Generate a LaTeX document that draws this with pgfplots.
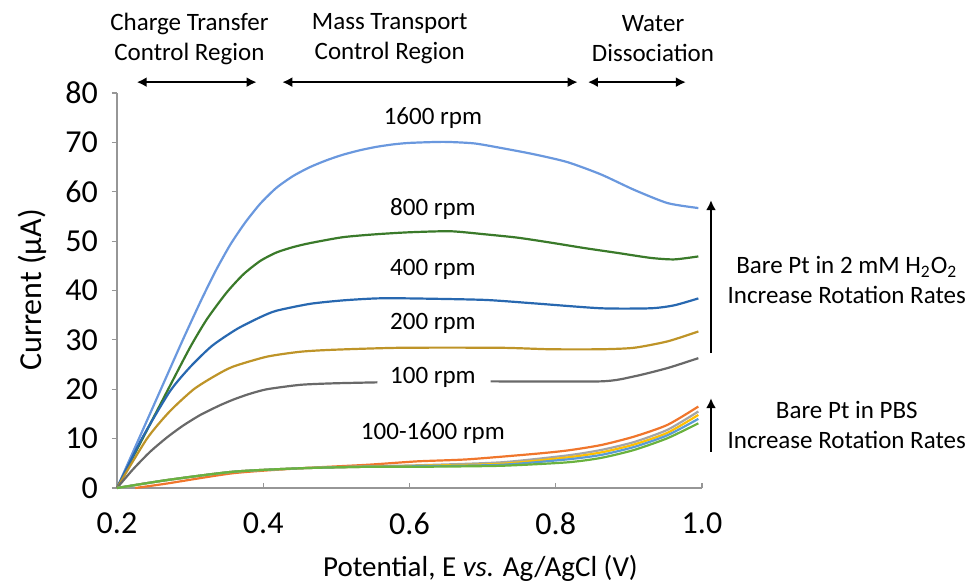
\documentclass[border=0pt]{standalone}
\usepackage{fontspec}
\setmainfont{Carlito}
\usepackage{pgfplots}
\pgfplotsset{compat=1.18}
\usetikzlibrary{arrows.meta}

% Excel-like palette
\definecolor{c1600}{RGB}{106,152,222}
\definecolor{c800}{RGB}{58,122,42}
\definecolor{c400}{RGB}{40,104,176}
\definecolor{c200}{RGB}{190,148,40}
\definecolor{c100}{RGB}{105,105,105}
\definecolor{pOrange}{RGB}{240,118,44}
\definecolor{pGrey}{RGB}{165,165,165}
\definecolor{pYellow}{RGB}{255,192,0}
\definecolor{pBlue}{RGB}{91,155,213}
\definecolor{pGreen}{RGB}{106,178,62}
\definecolor{axgrey}{RGB}{150,150,150}

\newcommand{\annot}{\fontsize{12.5}{15}\selectfont}

\begin{document}
\begin{tikzpicture}
\useasboundingbox (-58.5pt,-48pt) rectangle (425pt,244pt);
\begin{axis}[
  scale only axis,
  width=292.5pt, height=197.5pt,
  xmin=0.2, xmax=1.0, ymin=0, ymax=80,
  axis lines*=left,
  axis line style={axgrey, line width=0.6pt},
  xtick={0.2,0.4,0.6,0.8,1.0},
  ytick={0,10,...,80},
  xticklabel style={/pgf/number format/fixed, /pgf/number format/fixed zerofill,
    /pgf/number format/precision=1, yshift=-9pt},
  yticklabel style={xshift=-3.5pt},
  xtick style={axgrey, line width=0.6pt},
  ytick style={axgrey, line width=0.6pt},
  xtick align=inside, ytick align=outside,
  major tick length=2.5pt,
  tick label style={font=\fontsize{16}{19}\selectfont, text=black},
  /pgf/number format/assume math mode=true,
  clip=false,
  every axis plot/.append style={line width=1.1pt, smooth, tension=0.4},
]
% ---- Bare Pt in 2 mM H2O2 ----
\addplot[c1600] coordinates {
 (0.200,0) (0.230,10) (0.260,20) (0.290,30) (0.315,38) (0.335,44) (0.355,49.3)
 (0.375,53.7) (0.396,57.6) (0.418,60.8) (0.441,63.2) (0.464,65.0) (0.487,66.4)
 (0.509,67.5) (0.532,68.4) (0.555,69.1) (0.578,69.6) (0.601,69.9) (0.647,70.1)
 (0.688,69.8) (0.724,68.9) (0.770,67.6) (0.816,66.0) (0.862,63.5) (0.907,60.4)
 (0.953,57.7) (0.995,56.7)};
\addplot[c800] coordinates {
 (0.200,0) (0.235,10) (0.270,20) (0.300,28.5) (0.323,34.2) (0.350,39.6) (0.373,43.3)
 (0.396,46.0) (0.418,47.7) (0.441,48.8) (0.464,49.6) (0.509,50.8) (0.555,51.4)
 (0.601,51.8) (0.656,52.0) (0.702,51.4) (0.748,50.7) (0.793,49.7) (0.839,48.6)
 (0.885,47.6) (0.930,46.6) (0.962,46.3) (0.995,46.9)};
\addplot[c400] coordinates {
 (0.200,0) (0.234,10) (0.272,19.5) (0.300,24.5) (0.330,28.8) (0.364,32.2) (0.396,34.6)
 (0.418,35.9) (0.464,37.3) (0.509,38.0) (0.555,38.4) (0.601,38.4) (0.702,38.1)
 (0.770,37.4) (0.862,36.4) (0.930,36.4) (0.962,37.0) (0.995,38.4)};
\addplot[c200] coordinates {
 (0.200,0) (0.241,10) (0.272,15.5) (0.305,20) (0.335,22.8) (0.359,24.6) (0.405,26.6)
 (0.451,27.6) (0.496,28.0) (0.588,28.4) (0.724,28.4) (0.793,28.1) (0.862,28.1)
 (0.907,28.4) (0.953,29.7) (0.995,31.7)};
\addplot[c100] coordinates {
 (0.200,0) (0.222,3.8) (0.245,7.3) (0.268,10.2) (0.290,12.6) (0.314,14.8) (0.340,16.7)
 (0.359,17.9) (0.380,19.0) (0.405,20.0) (0.451,20.9) (0.496,21.2) (0.556,21.4)};
\addplot[c100] coordinates {
 (0.711,21.6) (0.862,21.6) (0.907,22.6) (0.953,24.3) (0.995,26.3)};
% ---- Bare Pt in PBS ----
\addplot[pOrange] coordinates {
 (0.225,0) (0.268,0.9) (0.359,3.0) (0.451,4.0) (0.542,4.7) (0.611,5.4) (0.679,5.8)
 (0.770,6.9) (0.816,7.6) (0.862,8.7) (0.907,10.4) (0.953,12.8) (0.995,16.5)};
\addplot[pGrey] coordinates {
 (0.200,0) (0.268,1.6) (0.359,3.3) (0.451,4.0) (0.542,4.4) (0.611,4.6) (0.725,5.2)
 (0.816,6.6) (0.862,7.7) (0.907,9.3) (0.953,11.8) (0.995,15.5)};
\addplot[pYellow] coordinates {
 (0.200,0) (0.268,1.6) (0.359,3.3) (0.451,4.0) (0.542,4.3) (0.611,4.5) (0.725,4.9)
 (0.816,6.2) (0.862,7.2) (0.907,8.8) (0.953,11.2) (0.995,14.8)};
\addplot[pBlue] coordinates {
 (0.200,0) (0.268,1.6) (0.359,3.3) (0.451,4.0) (0.542,4.3) (0.611,4.4) (0.725,4.7)
 (0.816,5.8) (0.862,6.7) (0.907,8.3) (0.953,10.7) (0.995,14.0)};
\addplot[pGreen] coordinates {
 (0.200,0) (0.268,1.6) (0.359,3.3) (0.451,4.0) (0.542,4.3) (0.611,4.3) (0.725,4.5)
 (0.816,5.2) (0.862,6.1) (0.907,7.7) (0.953,10.1) (0.995,13.1)};

% curve labels
\node[font=\annot] at (axis cs:0.632,74.9) {1600 rpm};
\node[font=\annot] at (axis cs:0.632,56.5) {800 rpm};
\node[font=\annot] at (axis cs:0.632,44.2) {400 rpm};
\node[font=\annot] at (axis cs:0.632,33.4) {200 rpm};
\node[font=\annot] at (axis cs:0.632,22.3) {100 rpm};
\node[font=\annot] at (axis cs:0.632,11.1) {100-1600 rpm};

% regions along the top
\node[font=\annot, align=center] at (axis cs:0.299,91.0) {Charge Transfer\\Control Region};
\node[font=\annot, align=center] at (axis cs:0.573,91.0) {Mass Transport\\Control Region};
\node[font=\annot, align=center] at (axis cs:0.933,91.0) {Water\\Dissociation};
\draw[line width=1.3pt, {Latex[length=5pt,width=5pt]}-{Latex[length=5pt,width=5pt]}]
  (axis cs:0.227,82.2) -- (axis cs:0.391,82.2);
\draw[line width=1.3pt, {Latex[length=5pt,width=5pt]}-{Latex[length=5pt,width=5pt]}]
  (axis cs:0.426,82.2) -- (axis cs:0.830,82.2);
\draw[line width=1.3pt, {Latex[length=5pt,width=5pt]}-{Latex[length=5pt,width=5pt]}]
  (axis cs:0.844,82.2) -- (axis cs:0.978,82.2);

% rotation-rate arrows and notes
\draw[line width=1.1pt, -{Latex[length=5pt,width=5pt]}]
  (axis cs:1.0123,27.3) -- (axis cs:1.0123,58.3);
\draw[line width=1.1pt, -{Latex[length=5pt,width=5pt]}]
  (axis cs:1.0123,7.3) -- (axis cs:1.0123,18.2);
\node[font=\annot, align=center] at (axis cs:1.198,42.1)
  {Bare Pt in 2 mM H\textsubscript{2}O\textsubscript{2}\\Increase Rotation Rates};
\node[font=\annot, align=center] at (axis cs:1.198,12.7)
  {Bare Pt in PBS\\Increase Rotation Rates};

% axis titles
\node[font=\fontsize{16}{19}\selectfont, rotate=90] at (axis cs:0.0838,40.1) {Current (µA)};
\node[font=\fontsize{14.5}{17}\selectfont] at (axis cs:0.697,-16.2) {Potential, E \textit{vs.} Ag/AgCl (V)};
\end{axis}
\end{tikzpicture}
\end{document}
